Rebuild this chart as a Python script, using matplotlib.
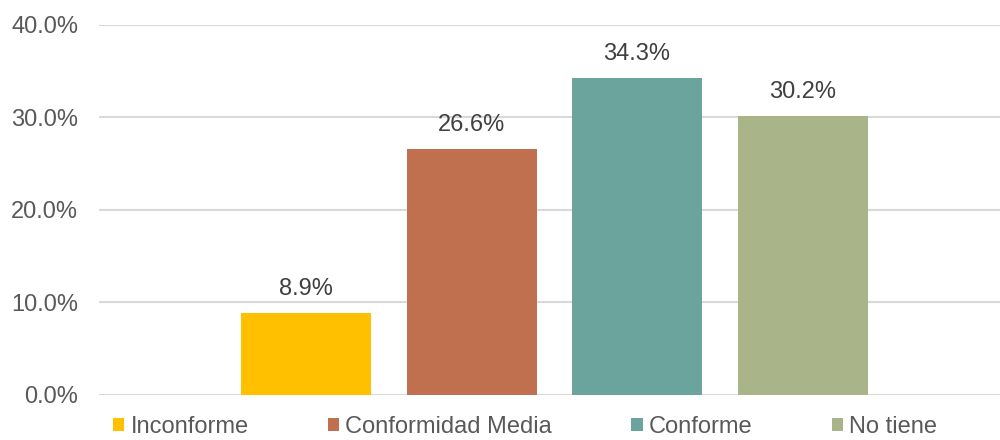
import matplotlib.pyplot as plt
from matplotlib.ticker import PercentFormatter

categories = ["Inconforme", "Conformidad Media", "Conforme", "No tiene"]
values = [0.089, 0.266, 0.343, 0.302]
colors = ["#FFC000", "#C0704F", "#6BA39D", "#A9B489"]
yticks = [0.0, 0.1, 0.2, 0.3, 0.4]

plt.rcParams['font.family'] = ['Liberation Sans', 'DejaVu Sans']

fig = plt.figure(figsize=(10, 4.4), dpi=100)
ax = fig.add_axes([0.099, 0.1023, 0.901, 0.8409])

for i, (cat, val, col) in enumerate(zip(categories, values, colors)):
    ax.bar(i, val, width=0.786, color=col, label=cat, zorder=2)
    ax.annotate(f"{val * 100:.1f}%", (i, val), xytext=(0, 9), textcoords="offset points",
                ha="center", va="bottom", fontsize=17, color="#404040")

ax.set_xlim(-1.251, 4.193)
ax.set_ylim(0, 0.4)
ax.set_yticks(yticks)
ax.yaxis.set_major_formatter(PercentFormatter(1.0, decimals=1))
ax.set_xticks([])
ax.grid(axis="y", color="#D9D9D9", linewidth=1.5, zorder=0)
for s in ax.spines.values():
    s.set_visible(False)
ax.tick_params(axis="y", length=0, pad=15, labelsize=17, labelcolor="#595959")

fig.legend(loc="center", bbox_to_anchor=(0.525, 0.03), ncol=4, frameon=False,
           fontsize=17, labelcolor="#595959", handlelength=0.5, handleheight=0.5,
           handletextpad=0.25, columnspacing=3.35, borderpad=0)

fig.savefig("out.png", dpi=100)
